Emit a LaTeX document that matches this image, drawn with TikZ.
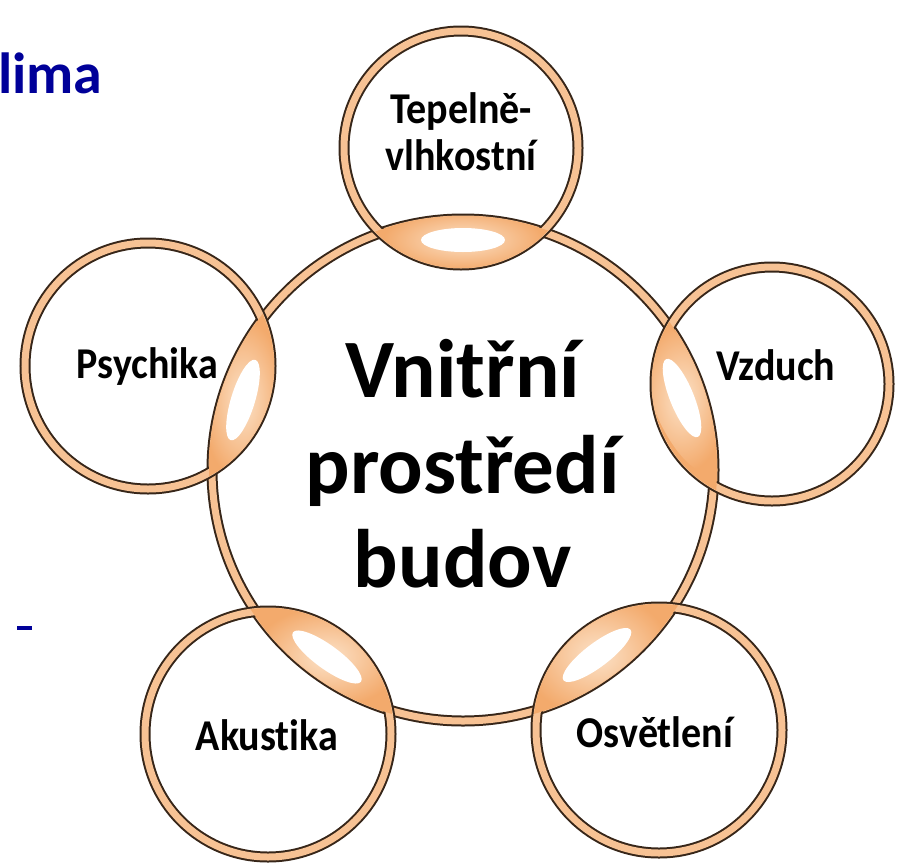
\documentclass[tikz,border=0pt]{standalone}
\usepackage{fontspec}
\setmainfont{Carlito}[Ligatures=NoCommon]
\newfontfamily\lblfont{Carlito}[FakeStretch=0.91, Ligatures=NoCommon]
\definecolor{ringdark}{RGB}{55,38,25}
\definecolor{ringpeach}{RGB}{247,194,148}
\definecolor{lenspeach}{RGB}{243,170,108}
\definecolor{lenslight}{RGB}{252,226,200}
\definecolor{titleblue}{RGB}{0,0,153}
\tikzset{
  ringedge/.style={draw=ringdark, line width=11pt},
  ringband/.style={draw=ringpeach, line width=7pt},
  lbl/.style={font=\lblfont\fontsize{44}{48}\selectfont\bfseries, inner sep=0pt, anchor=base},
  bigtxt/.style={font=\fontsize{83}{95}\selectfont\bfseries, inner sep=0pt, anchor=base},
}
\begin{document}
\begin{tikzpicture}[x=1pt,y=-1pt]
\useasboundingbox (0,0) rectangle (905,865);
% centres
\coordinate (M) at (463,470);
\coordinate (T) at (461,148);
\coordinate (V) at (772,384);
\coordinate (P) at (148,366);
\coordinate (A) at (268,734);
\coordinate (O) at (659,730);
% rings
\foreach \c/\r in {M/251, T/117, V/117, P/123, A/123, O/123}{
  \path[ringedge] (\c) circle (\r);
  \path[ringband] (\c) circle (\r);
}
% lenses with soft highlight
\foreach \c/\r/\hx/\hy/\ang in {T/117/463/240/0, V/117/682/398/-68, P/123/243/400/73, A/123/327/657/-36, O/123/597/655/37}{
  \begin{scope}
    \clip (M) circle (254);
    \clip (\c) circle ({\r+3});
    \fill[lenspeach] (\c) circle ({\r+3});
    \shade[inner color=lenslight, outer color=lenspeach, rotate around={\ang:(\hx,\hy)}] (\hx,\hy) ellipse [x radius=80, y radius=30];
  \end{scope}
  \fill[white, rotate around={\ang:(\hx,\hy)}] (\hx,\hy) ellipse [x radius=42, y radius=12];
}
% title fragment
\node[font=\fontsize{58}{60}\selectfont\bfseries, text=titleblue, inner sep=0pt, anchor=base west] (title) at (-2,93) {lima};
\fill[titleblue] (17,626) rectangle (32,630);
% centre text
\node[bigtxt] (c1) at (462.5,397) {Vnitřní};
\node[bigtxt] (c2) at (462.5,493) {prostředí};
\node[bigtxt] (c3) at (462.5,587) {budov};
% labels
\node[lbl] (t1) at (461,123) {Tepelně-};
\node[lbl] (t2) at (461,170) {vlhkostní};
\node[lbl] (v) at (776,380) {Vzduch};
\node[lbl] (p) at (147.5,378) {Psychika};
\node[lbl] (a) at (267,750) {Akustika};
\node[lbl] (o) at (655,747) {Osvětlení};
\end{tikzpicture}
\end{document}
